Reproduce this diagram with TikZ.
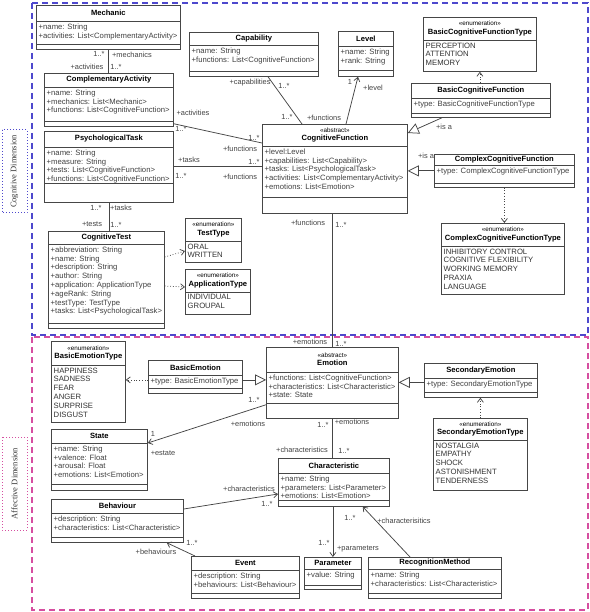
\documentclass[tikz,border=0pt]{standalone}
\usepackage{fontspec}
\setmainfont{Liberation Sans}
\newfontfamily\dimfont{Liberation Serif}
\usetikzlibrary{arrows.meta,shadows}

\definecolor{cogblue}{RGB}{78,72,205}
\definecolor{affpink}{RGB}{214,78,160}
\definecolor{umlline}{RGB}{70,70,70}
\definecolor{umltext}{RGB}{65,65,65}

\newcommand{\stereo}[1]{{\fontsize{6.3}{7}\mdseries\selectfont «#1»}}
% name, x, y, width, height, title sep, attr sep, title, attributes
\newcommand{\umlclass}[9]{%
  \node[classbox, minimum width=#4pt, minimum height=#5pt] (#1) at (#2,#3) {};
  \draw[sepline] ([yshift=-#6pt]#1.north west) -- ([yshift=-#6pt]#1.north east);
  \draw[sepline] ([yshift=-#7pt]#1.north west) -- ([yshift=-#7pt]#1.north east);
  \node[classtitle] (#1t) at ([yshift=-#6pt/2]#1.north) {#8};
  \node[attrtext] (#1a) at ([xshift=1pt,yshift=-#6pt-1pt]#1.north west) {#9};
}
% name, x, y, width, height, title sep, title, values
\newcommand{\umlenum}[8]{%
  \node[classbox, minimum width=#4pt, minimum height=#5pt] (#1) at (#2,#3) {};
  \draw[sepline] ([yshift=-#6pt]#1.north west) -- ([yshift=-#6pt]#1.north east);
  \node[classtitle] (#1t) at ([yshift=-#6pt/2]#1.north) {\stereo{enumeration}\\#7};
  \node[attrtext, text=black!80] (#1a) at ([xshift=1pt,yshift=-#6pt-1pt]#1.north west) {#8};
}

\begin{document}
\begin{tikzpicture}[x=1pt, y=-1pt]
  \tikzstyle{classbox}=[draw=umlline, fill=white, line width=0.75pt, anchor=north west, inner sep=0pt,
    drop shadow={shadow xshift=1pt, shadow yshift=-1pt, opacity=0.25}]
  \tikzstyle{sepline}=[draw=umlline, line width=0.65pt]
  \tikzstyle{classtitle}=[font=\bfseries\fontsize{7.6}{8.3}\selectfont, align=center, inner sep=0pt]
  \tikzstyle{attrtext}=[anchor=north west, align=left, font=\fontsize{7.7}{8.8}\selectfont, text=umltext, inner sep=1.5pt]
  \tikzstyle{lbl}=[font=\fontsize{7.4}{8}\selectfont, text=umltext, inner sep=0pt]
  \tikzstyle{assoc}=[draw=umlline, line width=0.75pt]
  \tikzstyle{nav}=[assoc, -{Straight Barb[length=4pt,width=6pt]}]
  \tikzstyle{isa}=[assoc, -{Triangle[open,length=11pt,width=11pt]}]
  \tikzstyle{dep}=[assoc, dotted, -{Straight Barb[length=4pt,width=6pt]}]
  \tikzstyle{dimlabel}=[rotate=90, dotted, line width=1pt, minimum height=25pt, inner sep=0pt,
    font=\dimfont\fontsize{8.5}{9}\selectfont, text=black!80]

  \useasboundingbox (0,0) rectangle (589,612);

  % the two dimensions
  \draw[cogblue, dash pattern=on 6pt off 4pt, line width=1.1pt] (32,3) rectangle (588,335);
  \draw[affpink, dash pattern=on 6pt off 4pt, line width=1.1pt] (32,337) rectangle (588,610);
  \node[dimlabel, draw=cogblue, minimum width=83pt] (cogdim) at (14.5,171.5) {Cognitive Dimension};
  \node[dimlabel, draw=affpink, minimum width=93pt] (affdim) at (14.5,483.5) {Affective Dimension};

  % cognitive classes
  \umlclass{mech}{36}{5}{144}{44}{16}{39}{Mechanic}{+name: String\\+activities: List<ComplementaryActivity>}
  \umlclass{capab}{189}{32}{129}{44}{13}{39}{Capability}{+name: String\\+functions: List<CognitiveFunction>}
  \umlclass{level}{338}{31}{55}{45}{15}{39}{Level}{+name: String\\+rank: String}
  \umlenum{bcftype}{423}{17}{113}{54}{23}{BasicCognitiveFunctionType}{PERCEPTION\\ATTENTION\\MEMORY}
  \umlclass{bcf}{411}{83}{139}{34}{15}{30}{BasicCognitiveFunction}{+type: BasicCognitiveFunctionType}
  \umlclass{ca}{44}{73}{129}{53}{14}{48}{ComplementaryActivity}{+name: String\\+mechanics: List<Mechanic>\\+functions: List<CognitiveFunction>}
  \umlclass{cf}{262}{124}{145}{89}{22}{73}{\stereo{abstract}\\CognitiveFunction}{+level:Level\\+capabilities: List<Capability>\\+tasks: List<PsychologicalTask>\\+activities: List<ComplementaryActivity>\\+emotions: List<Emotion>}
  \umlclass{pt}{44}{131}{129}{71}{16}{52}{PsychologicalTask}{+name: String\\+measure: String\\+tests: List<CognitiveFunction>\\+functions: List<CognitiveFunction>}
  \umlclass{ccf}{434}{154}{140}{33}{11}{29}{ComplexCognitiveFunction}{+type: ComplexCognitiveFunctionType}
  \umlenum{ccftype}{441}{223}{123}{71}{23}{ComplexCognitiveFunctionType}{INHIBITORY CONTROL\\COGNITIVE FLEXIBILITY\\WORKING MEMORY\\PRAXIA\\LANGUAGE}
  \umlclass{ct}{48}{231}{116}{97}{13}{92}{CognitiveTest}{+abbreviation: String\\+name: String\\+description: String\\+author: String\\+application: ApplicationType\\+ageRank: String\\+testType: TestType\\+tasks: List<PsychologicalTask>}
  \umlenum{testtype}{185}{218}{56}{44}{23}{TestType}{ORAL\\WRITTEN}
  \umlenum{apptype}{185}{269}{65}{45}{23}{ApplicationType}{INDIVIDUAL\\GROUPAL}

  % affective classes
  \umlenum{bettype}{51}{341}{74}{81}{24}{BasicEmotionType}{HAPPINESS\\SADNESS\\FEAR\\ANGER\\SURPRISE\\DISGUST}
  \umlclass{be}{148}{360}{94}{33}{15}{28}{BasicEmotion}{+type: BasicEmotionType}
  \umlclass{emotion}{266}{347}{132}{71}{25}{56}{\stereo{abstract}\\Emotion}{+functions: List<CognitiveFunction>\\+characteristics: List<Characteristic>\\+state: State}
  \umlclass{se}{424}{363}{113}{34}{15}{29}{SecondaryEmotion}{+type: SecondaryEmotionType}
  \umlenum{setype}{433}{418}{94}{72}{22}{SecondaryEmotionType}{NOSTALGIA\\EMPATHY\\SHOCK\\ASTONISHMENT\\TENDERNESS}
  \umlclass{state}{51}{429}{96}{61}{14}{55}{State}{+name: String\\+valence: Float\\+arousal: Float\\+emotions: List<Emotion>}
  \umlclass{charac}{278}{458}{111}{48}{15}{42}{Characteristic}{+name: String\\+parameters: List<Parameter>\\+emotions: List<Emotion>}
  \umlclass{behav}{51}{499}{132}{43}{14}{38}{Behaviour}{+description: String\\+characteristics: List<Characteristic>}
  \umlclass{event}{191}{556}{108}{42}{14}{37}{Event}{+description: String\\+behaviours: List<Behaviour>}
  \umlclass{param}{304}{557}{57}{32}{12}{28}{Parameter}{+value: String}
  \umlclass{recog}{368}{557}{133}{41}{12}{36}{RecognitionMethod}{+name: String\\+characteristics: List<Characteristic>}

  % cognitive connectors
  \draw[assoc] (mech.south) -- (mech.south |- ca.north);
  \node[lbl] at (99,54) {1..*};
  \node[lbl] at (132,55) {+mechanics};
  \node[lbl] at (87,67) {+activities};
  \node[lbl] at (116,67) {1..*};

  \draw[assoc] ([yshift=3pt]ca.south east) -- ([yshift=-19pt]cf.north west);
  \node[lbl] at (193,113) {+activities};
  \node[lbl] at (181,129) {1..*};
  \node[lbl] at (254,138) {1..*};
  \node[lbl] at (240,149) {+functions};

  \draw[assoc] (pt.east) -- (pt.east -| cf.west);
  \node[lbl] at (189,160) {+tasks};
  \node[lbl] at (181,176) {1..*};
  \node[lbl] at (254,162) {1..*};
  \node[lbl] at (240,177) {+functions};

  \draw[assoc] ([xshift=79pt]capab.south west) -- ([xshift=40pt]cf.north west);
  \node[lbl] at (250,83) {+capabilities};
  \node[lbl] at (284,86) {1..*};
  \node[lbl] at (287,117) {1..*};
  \node[lbl] at (324,118) {+functions};

  \draw[nav] ([xshift=84pt]cf.north west) -- ([xshift=20pt]level.south west);
  \node[lbl] at (350,82) {1};
  \node[lbl] at (373,88) {+level};

  \draw[isa] ([xshift=31pt]bcf.south west) -- ([yshift=-9pt]cf.north east);
  \node[lbl] at (444,127) {+is a};
  \draw[isa] (ccf.west) -- (ccf.west -| cf.east);
  \node[lbl] at (426,156) {+is a};

  \draw[dep] (bcftype.south |- bcf.north) -- (bcftype.south);
  \draw[dep] (ccf.south) -- (ccf.south |- ccftype.north);

  \draw[assoc] (pt.south) -- (pt.south |- ct.north);
  \node[lbl] at (96,208) {1..*};
  \node[lbl] at (121,208) {+tasks};
  \node[lbl] at (92,224) {+tests};
  \node[lbl] at (116,225) {1..*};

  \draw[dep] ([yshift=-26pt]ct.north east) -- ([yshift=-33pt]testtype.north west);
  \draw[dep] ([yshift=-55pt]ct.north east) -- ([yshift=-18pt]apptype.north west);

  % between the dimensions
  \draw[assoc] (emotion.north |- cf.south) -- (emotion.north);
  \node[lbl] at (308,223) {+functions};
  \node[lbl] at (341,225) {1..*};
  \node[lbl] at (310,342) {+emotions};
  \node[lbl] at (341,344) {1..*};

  % affective connectors
  \draw[isa] ([yshift=-3pt]be.east) -- ([yshift=-3pt]be.east -| emotion.west);
  \draw[dep] ([yshift=-3pt]be.west) -- ([yshift=-3pt]be.west -| bettype.east);
  \draw[isa] ([yshift=-2pt]se.west) -- ([yshift=-2pt]se.west -| emotion.east);
  \draw[dep] (setype.north) -- (setype.north |- se.south);

  \draw[nav] ([yshift=14pt]emotion.south west) -- ([yshift=-14pt]state.north east);
  \node[lbl] at (254,400) {1..*};
  \node[lbl] at (248,424) {+emotions};
  \node[lbl] at (153,434) {1};
  \node[lbl] at (163,453) {+estate};

  \draw[assoc] (emotion.south) -- (emotion.south |- charac.north);
  \node[lbl] at (323,425) {1..*};
  \node[lbl] at (352,422) {+emotions};
  \node[lbl] at (302,450) {+characteristics};
  \node[lbl] at (344,451) {1..*};

  \draw[nav] ([yshift=-10pt]behav.north east) -- ([yshift=-36pt]charac.north west);
  \node[lbl] at (249,489) {+characteristics};
  \node[lbl] at (267,504) {1..*};

  \draw[nav] ([xshift=4pt]event.north west) -- ([xshift=-17pt]behav.south east);
  \node[lbl] at (156,552) {+behaviours};
  \node[lbl] at (192,543) {1..*};

  \draw[nav] (param.north |- charac.south) -- (param.north);
  \node[lbl] at (324,543) {1..*};
  \node[lbl] at (358,549) {+parameters};

  \draw[nav] ([xshift=42pt]recog.north west) -- ([xshift=-27pt]charac.south east);
  \node[lbl] at (404,521) {+characterisitics};
  \node[lbl] at (350,518) {1..*};
\end{tikzpicture}
\end{document}
